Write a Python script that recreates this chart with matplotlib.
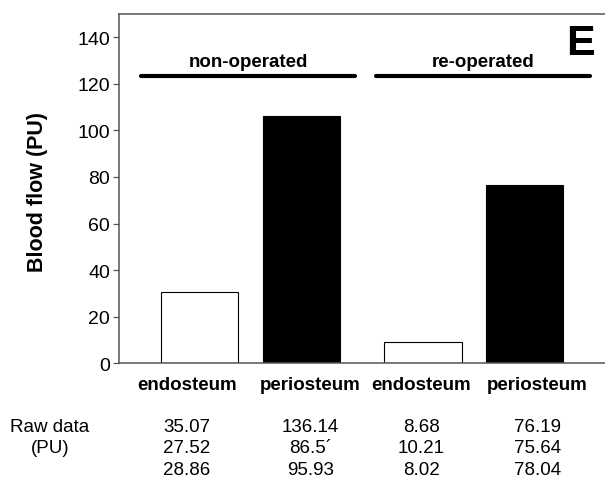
import matplotlib
matplotlib.use('Agg')
import matplotlib.pyplot as plt

plt.rcParams['font.family'] = ['Liberation Sans', 'DejaVu Sans']

# bar means (PU) and the raw readings shown under each bar
categories = ['endosteum', 'periosteum', 'endosteum', 'periosteum']
bar_pos = [0, 1, 2.2, 3.2]
blood_flow = [30.48, 106.19, 8.97, 76.62]
bar_colors = ['white', 'black', 'white', 'black']
raw_data = [
    ['35.07', '27.52', '28.86'],
    ['136.14', '86.5\u00b4', '95.93'],
    ['8.68', '10.21', '8.02'],
    ['76.19', '75.64', '78.04'],
]
label_pos = [-0.123, 1.089, 2.182, 3.325]
groups = ['non-operated', 're-operated']
group_span = [(-0.578, 1.532), (1.739, 3.847)]
group_y = 123.1

fig = plt.figure(figsize=(6.05, 4.81), dpi=100)
ax = fig.add_axes([119 / 605, 1 - 364.4 / 481, 1 - 119 / 605, (364.4 - 14.7) / 481])

ax.bar(bar_pos, blood_flow, width=0.76, color=bar_colors, edgecolor='black', linewidth=0.8)

ax.set_xlim(-0.793, 3.991)
ax.set_ylim(0, 150)
ax.set_yticks(range(0, 141, 20))
ax.tick_params(axis='y', labelsize=14, length=4.5, width=0.9, color='#555555', pad=2)
ax.set_xticks(label_pos)
ax.set_xticklabels(categories, fontsize=13.5, fontweight='bold')
ax.tick_params(axis='x', length=0, pad=9)

for side in ['left', 'top', 'bottom']:
    ax.spines[side].set_color('#555555')
    ax.spines[side].set_linewidth(1.1)
ax.spines['right'].set_visible(False)

fig.text(38 / 605, 1 - 192.5 / 481, 'Blood flow (PU)', rotation=90, ha='center', va='center',
         fontsize=15.5, fontweight='bold')

# group bars with labels
for name, (x0, x1) in zip(groups, group_span):
    ax.plot([x0, x1], [group_y, group_y], color='black', linewidth=3, solid_capstyle='round')
    ax.text((x0 + x1) / 2, 129.6, name, ha='center', va='center', fontsize=13.5, fontweight='bold')

ax.text(3.887, 132.6, 'E', ha='right', va='baseline', fontsize=31, fontweight='bold')

# raw data table below the axis
row_y = [-27.2, -36.2, -45.7]
ax.text(-1.48, row_y[0], 'Raw data', ha='center', va='center', fontsize=13.5, clip_on=False)
ax.text(-1.47, row_y[1], '(PU)', ha='center', va='center', fontsize=13.5, clip_on=False)
for x, vals in zip(label_pos, raw_data):
    for y, v in zip(row_y, vals):
        ax.text(x, y, v, ha='center', va='center', fontsize=13.5, clip_on=False)

fig.savefig('out.png', dpi=100)
